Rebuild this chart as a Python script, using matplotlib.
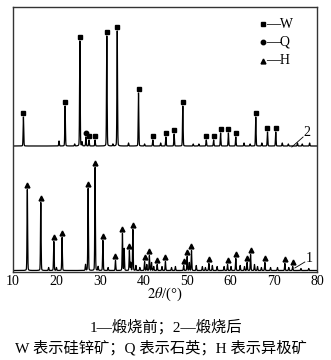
import matplotlib

matplotlib.use("Agg")

import matplotlib.pyplot as plt
import numpy as np

plt.rcParams["mathtext.fontset"] = "stix"
FONTS = ["Liberation Serif", "Noto Sans CJK SC"]

# curve 2 (after calcination): labelled peaks, 2theta / intensity (arb.)
W2_POS = [12.4, 22.0, 25.4, 27.5, 28.9, 31.6, 34.0, 38.9, 42.2, 45.2, 47.1,
          49.1, 54.5, 56.2, 57.8, 59.6, 61.3, 65.9, 68.6, 70.5]
W2_INT = [29, 40, 105, 6, 6, 110, 115, 53, 6, 9, 12,
          40, 6, 6, 13, 13, 9, 29, 14, 14]
Q2_POS = [26.8]
Q2_INT = [9]
# unlabelled weak reflections of curve 2
MINOR2_POS = [20.6, 24.2, 25.9, 33.0, 36.6, 40.3, 44.0, 51.5, 52.8, 63.2,
              64.6, 67.3, 72.0, 73.4, 75.5, 76.6, 78.3]
MINOR2_INT = [5, 2, 4, 2, 3, 2, 3, 2, 2, 3,
              2, 3, 3, 2, 3, 2, 3]

# curve 1 (before calcination)
H1_POS = [13.3, 16.4, 19.4, 21.3, 27.3, 28.9, 30.7, 33.6, 35.2, 36.8, 37.6,
          40.3, 41.4, 43.2, 45.1, 49.3, 50.1, 51.1, 55.1, 59.4, 61.3, 63.9,
          64.7, 68.0, 72.6, 74.4]
H1_INT = [81, 68, 29, 33, 82, 103, 30, 10, 37, 20, 41,
          9, 15, 6, 9, 5, 14, 20, 7, 6, 12, 8,
          16, 8, 7, 4]
MINOR1_POS = [18.2, 20.0, 26.7, 29.6, 31.9, 35.6, 37.1, 38.3, 39.2, 40.8,
              41.9, 42.4, 44.3, 46.5, 47.4, 50.6, 52.2, 53.6, 54.3, 55.9,
              57.0, 58.6, 60.2, 62.3, 63.3, 65.6, 66.3, 67.2, 69.3, 70.9,
              73.5, 76.3, 78.1]
MINOR1_INT = [3, 3, 6, 4, 3, 22, 8, 5, 3, 6,
              8, 4, 4, 3, 4, 8, 5, 4, 3, 5,
              4, 4, 4, 5, 4, 6, 4, 3, 3, 3,
              3, 2, 2]

BASE2 = 126.0
BASE1 = 1.5


def profile(x, positions, intensities, width=0.13):
    y = np.zeros_like(x)
    for p, h in zip(positions, intensities):
        g = np.exp(-0.5 * ((x - p) / (width * 0.55)) ** 2)
        l = 1.0 / (1.0 + ((x - p) / (width * 0.5)) ** 2)
        y += h * (0.8 * g + 0.2 * l)
    return y


two_theta = np.arange(10.0, 80.0, 0.01)
curve2 = BASE2 + profile(two_theta, W2_POS + Q2_POS + MINOR2_POS,
                         W2_INT + Q2_INT + MINOR2_INT)
curve1 = BASE1 + profile(two_theta, H1_POS + MINOR1_POS, H1_INT + MINOR1_INT)

fig = plt.figure(figsize=(3.31, 3.60), dpi=100)
ax = fig.add_axes([13 / 331, 1 - 272 / 360, 304 / 331, 265 / 360])

ax.plot(two_theta, curve2, color="black", lw=0.9)
ax.plot(two_theta, curve1, color="black", lw=0.9)

mk_off = 4.5
ax.plot(W2_POS, BASE2 + np.array(W2_INT) + mk_off, "s", color="black", ms=3.5)
ax.plot(Q2_POS, BASE2 + np.array(Q2_INT) + mk_off, "o", color="black", ms=3.2)
ax.plot(H1_POS, BASE1 + np.array(H1_INT) + mk_off, "^", color="black", ms=3.5)

# curve labels with leader lines
ax.plot([74.2, 76.8], [125, 135], color="black", lw=0.6)
ax.text(76.9, 133, "2", fontsize=10, family=FONTS, va="bottom", ha="left")
ax.plot([74.9, 77.2], [4, 10], color="black", lw=0.6)
ax.text(77.3, 7, "1", fontsize=10, family=FONTS, va="bottom", ha="left")

# legend
for mk, lab, ly in [("s", "W", 248), ("o", "Q", 230), ("^", "H", 211)]:
    ax.plot([67.6], [ly], mk, color="black", ms=3.2 if mk == "o" else 3.5)
    ax.text(68.3, ly, "\u2014" + lab, fontsize=10, family=FONTS, va="center", ha="left")

ax.set_xlim(10, 80)
ax.set_ylim(0, 265)
ax.set_xticks([10, 20, 30, 40, 50, 60, 70, 80])
ax.set_yticks([])
ax.tick_params(axis="x", length=0, pad=2, labelsize=10)
for lbl in ax.get_xticklabels():
    lbl.set_family(FONTS)
for spine in ax.spines.values():
    spine.set_color("#333333")
    spine.set_linewidth(1.0)

fig.text(165 / 331, 1 - 294 / 360, r"$2\theta$/(°)", fontsize=10.5, family=FONTS,
         ha="center", va="center")
fig.text(166 / 331, 1 - 327 / 360, "1\u2014煅烧前；2\u2014煅烧后", fontsize=11,
         family=FONTS, ha="center", va="center")
fig.text(161 / 331, 1 - 348 / 360, "W 表示硅锌矿；Q 表示石英；H 表示异极矿", fontsize=11,
         family=FONTS, ha="center", va="center")

fig.savefig("out.png", dpi=100, facecolor="white")
plt.close(fig)
